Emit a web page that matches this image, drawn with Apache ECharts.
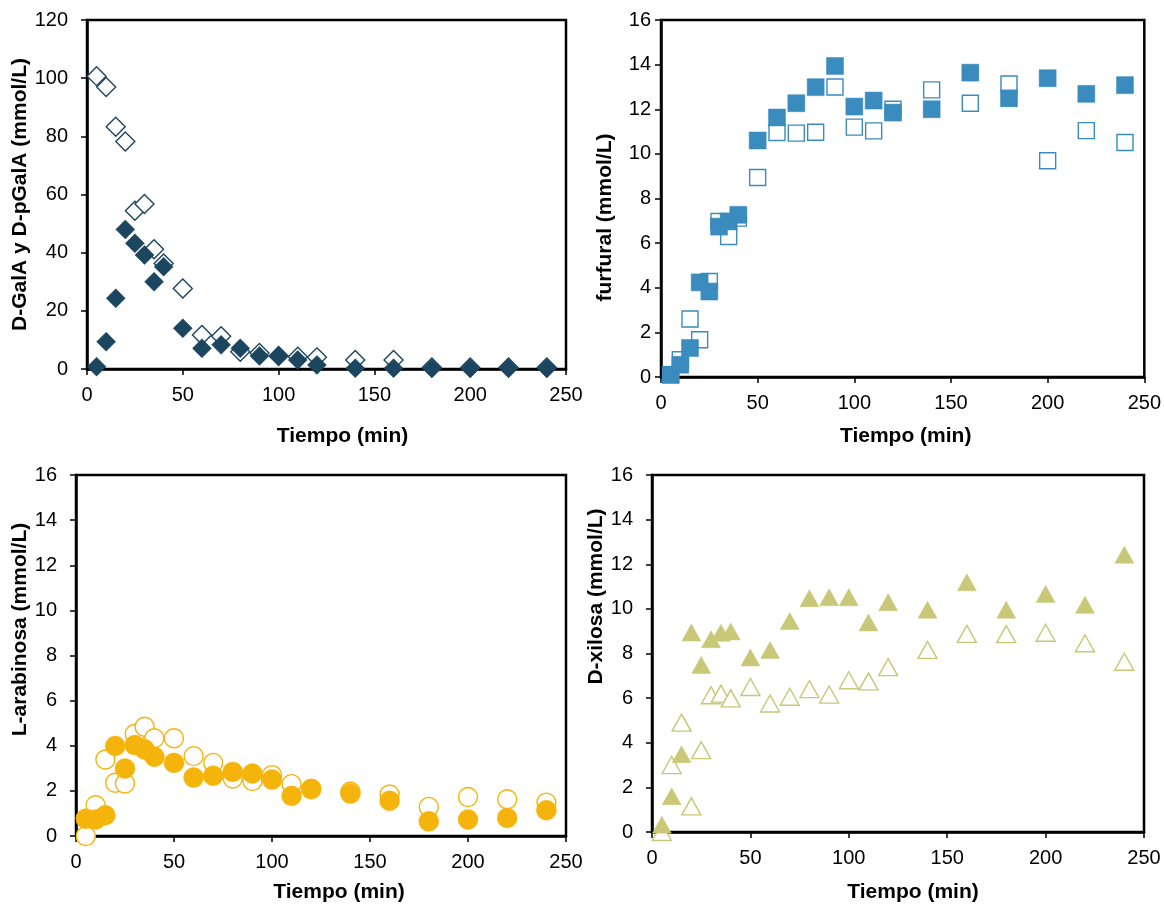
<!DOCTYPE html>
<html>
<head>
<meta charset="utf-8">
<script src="https://cdn.jsdelivr.net/npm/echarts@6/dist/echarts.min.js"></script>
<style>
  html, body { margin: 0; padding: 0; background: #fff; }
  #main { width: 1164px; height: 905px; }
</style>
</head>
<body>
<div id="main"></div>
<script>
// tiempos de muestreo (min)
const tiempo = [5, 10, 15, 20, 25, 30, 35, 40, 50, 60, 70, 80, 90, 100, 110, 120, 140, 160, 180, 200, 220, 240];
const ticksX = [0, 50, 100, 150, 200, 250];

// D-GalA y D-pGalA
const galaAbierto = [100.7, 97, 83.3, 78.2, 54.4, 56.7, 41.2, 36.3, 27.7, 11.7, 11.3, 5.9, 5.5, 4.5, 4.2, 4.0, 3.1, 3.1, 0.5, 0.5, 0.5, 0.5];
const galaLleno = [0.8, 9.4, 24.3, 48, 43.2, 39.2, 30, 35.2, 14, 7.1, 8.3, 7.1, 4.5, 4.5, 3.1, 1.4, 0.3, 0.3, 0.3, 0.3, 0.3, 0.3];

// furfural
const furfuralAbierto = [0.1, 0.77, 2.6, 1.67, 4.28, 6.97, 6.3, 7.12, 8.94, 10.96, 10.93, 10.97, 13.0, 11.2, 11.03, 12.0, 12.87, 12.27, 13.13, 9.69, 11.04, 10.51];
const furfuralLleno = [0.1, 0.55, 1.3, 4.24, 3.83, 6.74, 6.97, 7.27, 10.6, 11.63, 12.27, 12.99, 13.94, 12.12, 12.39, 11.85, 12.0, 13.64, 12.49, 13.39, 12.69, 13.08];

// L-arabinosa
const arabinosaAbierto = [0, 1.36, 3.39, 2.36, 2.33, 4.52, 4.84, 4.33, 4.33, 3.54, 3.24, 2.55, 2.44, 2.7, 2.3, 2.1, 1.96, 1.84, 1.29, 1.73, 1.63, 1.48];
const arabinosaLleno = [0.77, 0.73, 0.92, 3.99, 2.99, 4.03, 3.84, 3.51, 3.24, 2.59, 2.67, 2.84, 2.77, 2.5, 1.78, 2.07, 1.88, 1.56, 0.65, 0.73, 0.8, 1.14];

// D-xilosa
const xilosaAbierto = [0, 3.0, 4.9, 1.15, 3.67, 6.13, 6.2, 5.99, 6.5, 5.76, 6.06, 6.4, 6.16, 6.8, 6.75, 7.39, 8.16, 8.88, 8.87, 8.93, 8.46, 7.63];
const xilosaLleno = [0.33, 1.6, 3.49, 8.94, 7.49, 8.64, 8.93, 8.99, 7.82, 8.16, 9.46, 10.48, 10.52, 10.52, 9.39, 10.3, 9.96, 11.19, 9.96, 10.67, 10.18, 12.43];

const FONT = '"Liberation Sans", Arial, sans-serif';

function pares(ys) {
    return tiempo.map((t, i) => [t, ys[i]]);
}

function ejeX(idx, gap, shift) {
    return {
        gridIndex: idx, type: 'value', min: 0, max: ticksX[ticksX.length - 1], interval: 50,
        name: 'Tiempo (min)', nameLocation: 'middle', nameGap: gap,
        nameTextStyle: { fontFamily: FONT, fontSize: 21, fontWeight: 'bold', color: '#000',
            padding: shift >= 0 ? [0, 0, 0, shift * 2] : [0, -shift * 2, 0, 0] },
        axisLine: { show: true, onZero: false, lineStyle: { color: '#000', width: 2.5 } },
        axisTick: { show: true, inside: false, length: 6, lineStyle: { color: '#000', width: 1.5 } },
        axisLabel: { fontFamily: FONT, fontSize: 20, color: '#000', margin: 16 },
        splitLine: { show: false }
    };
}

function ejeY(idx, name, max, interval, gap, shift, margin) {
    // shift > 0 moves the title down, < 0 up
    return {
        gridIndex: idx, type: 'value', min: 0, max: max, interval: interval,
        name: name, nameLocation: 'middle', nameGap: gap,
        nameTextStyle: { fontFamily: FONT, fontSize: 21, fontWeight: 'bold', color: '#000',
            padding: shift >= 0 ? [0, shift * 2, 0, 0] : [0, 0, 0, -shift * 2] },
        axisLine: { show: true, onZero: false, lineStyle: { color: '#000', width: 2.5 } },
        axisTick: { show: true, inside: false, length: 6, lineStyle: { color: '#000', width: 1.5 } },
        axisLabel: { fontFamily: FONT, fontSize: 20, color: '#000', margin: margin },
        splitLine: { show: false }
    };
}

function serie(idx, datos, simbolo, tam, color, lleno) {
    return {
        type: 'scatter', xAxisIndex: idx, yAxisIndex: idx,
        data: pares(datos), symbol: simbolo, symbolSize: tam, clip: false,
        itemStyle: lleno
            ? { color: color, borderColor: color, borderWidth: 0.5, opacity: 1 }
            : { color: '#fff', borderColor: color, borderWidth: 1.4, opacity: 1 },
        emphasis: { disabled: true }
    };
}

const azulOscuro = '#1c4560';
const azul = '#3a8bbe';
const naranja = '#f5b40c';
const caqui = '#c8c878';

const chart = echarts.init(document.getElementById('main'));
chart.setOption({
    animation: false,
    backgroundColor: '#fff',
    grid: [
        { left: 87, top: 20, width: 479, height: 349, show: true, borderColor: '#000', borderWidth: 2.5 },
        { left: 661, top: 20, width: 484, height: 357, show: true, borderColor: '#000', borderWidth: 2.5 },
        { left: 76, top: 475, width: 490, height: 361, show: true, borderColor: '#000', borderWidth: 2.5 },
        { left: 652, top: 475, width: 492, height: 357, show: true, borderColor: '#000', borderWidth: 2.5 }
    ],
    xAxis: [
        ejeX(0, 57, 16),
        ejeX(1, 49, 3),
        ejeX(2, 46, 18),
        ejeX(3, 50, 15)
    ],
    yAxis: [
        ejeY(0, 'D-GalA y D-pGalA (mmol/L)', 120, 20, 53, 0, 19),
        ejeY(1, 'furfural (mmol/L)', 16, 2, 45, 19, 10),
        ejeY(2, 'L-arabinosa (mmol/L)', 16, 2, 43, -26, 19),
        ejeY(3, 'D-xilosa (mmol/L)', 16, 2, 40, -57, 19)
    ],
    series: [
        serie(0, galaAbierto, 'diamond', 19, azulOscuro, false),
        serie(0, galaLleno, 'diamond', 19, azulOscuro, true),
        serie(1, furfuralAbierto, 'rect', 16, azul, false),
        serie(1, furfuralLleno, 'rect', 17, azul, true),
        serie(2, arabinosaAbierto, 'circle', 19, naranja, false),
        serie(2, arabinosaLleno, 'circle', 20, naranja, true),
        serie(3, xilosaAbierto, 'triangle', [19, 17], caqui, false),
        serie(3, xilosaLleno, 'triangle', [19, 17], caqui, true)
    ]
});
</script>
</body>
</html>
